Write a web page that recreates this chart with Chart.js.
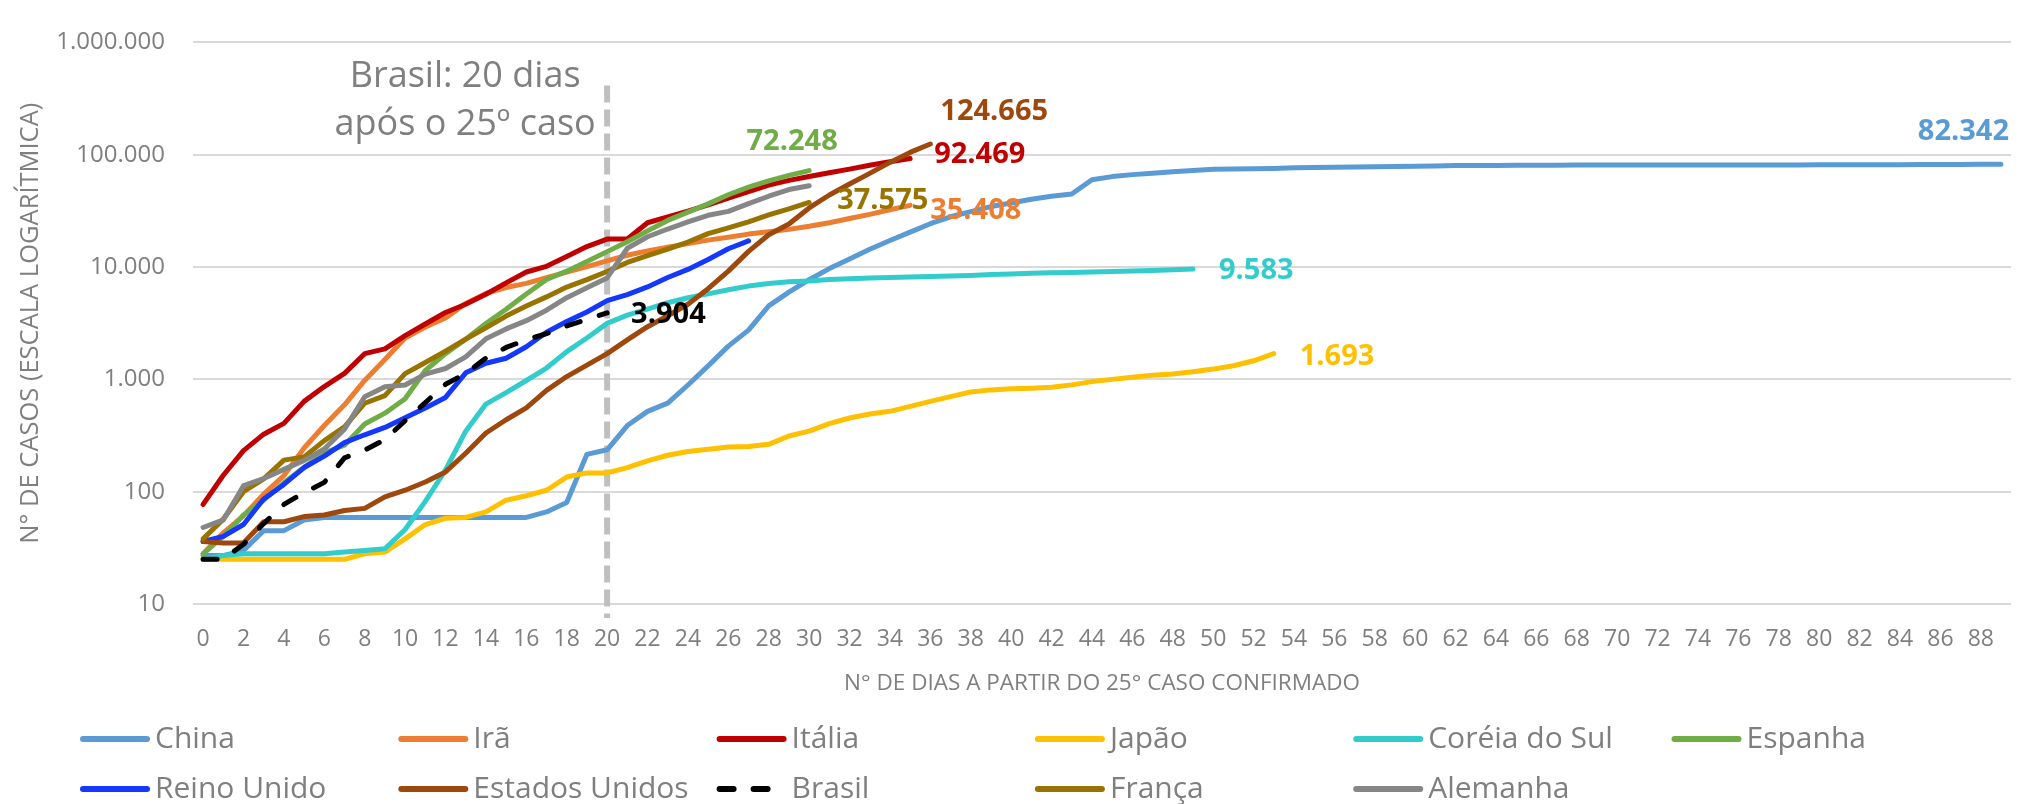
<!DOCTYPE html>
<html><head><meta charset="utf-8">
<script src="https://cdn.jsdelivr.net/npm/chart.js@4.4.0/dist/chart.umd.min.js"></script>
<style>html,body{margin:0;padding:0;background:#fff;}#wrap{width:2023px;height:804px;position:relative}</style>
</head><body><div id="wrap"><canvas id="c"></canvas></div>
<script>
// ---- categories (days since 25th case) ----
const categories = ["0","1","2","3","4","5","6","7","8","9","10","11","12","13","14","15","16","17","18","19","20","21","22","23","24","25","26","27","28","29","30","31","32","33","34","35","36","37","38","39","40","41","42","43","44","45","46","47","48","49","50","51","52","53","54","55","56","57","58","59","60","61","62","63","64","65","66","67","68","69","70","71","72","73","74","75","76","77","78","79","80","81","82","83","84","85","86","87","88","89"];

// ---- series values (cases) ----
const china = [27,27,30,45,45,56,59,59,59,59,59,59,59,59,59,59,59,66,80,215,236,388,519,615,891,1320,1975,2744,4515,5974,7711,9692,11791,14380,17205,20438,24324,28018,31161,34546,37198,40171,42638,44653,59804,63851,66492,68500,70548,72436,74185,74576,75077,75567,76396,77041,77262,77779,78190,78630,78959,79389,79968,80174,80302,80422,80565,80710,80813,80859,80904,80924,80955,80980,80991,81021,81048,81077,81116,81151,81235,81300,81416,81498,81601,81747,81846,81960,82078,82342];
const ira = [28,43,61,95,139,245,388,593,978,1501,2336,2922,3513,4747,5823,6566,7161,8042,9000,10075,11364,12729,13938,14991,16169,17361,18407,19644,20610,21638,23049,24811,27017,29406,32332,35408];
const italia = [77,140,232,325,406,637,863,1130,1693,1870,2450,3110,3940,4660,5720,7230,9030,10140,12400,15200,17750,17750,24800,28000,31500,35700,41000,47000,53600,59100,63900,69200,74400,80600,86500,92469];
const japao = [25,25,25,25,25,25,25,25,28,29,38,51,58,59,66,84,92,103,135,147,147,164,188,211,228,239,250,252,264,313,346,404,453,492,519,574,636,701,773,806,825,835,850,893,955,1000,1043,1087,1116,1170,1234,1321,1463,1693];
const coreia = [25,27,28,28,28,28,28,29,30,31,46,82,156,346,602,763,977,1261,1766,2337,3150,3736,4212,4812,5328,5766,6284,6767,7134,7382,7513,7755,7869,7979,8086,8162,8236,8320,8413,8565,8652,8799,8897,8961,9037,9137,9241,9332,9478,9583];
const espanha = [28,40,62,84,120,165,222,259,400,500,673,1200,1695,2277,3146,4209,5753,7753,9191,11178,13716,16800,21000,26000,30800,36500,44000,51500,58500,65500,72248];
const reinoUnido = [36,40,51,86,116,164,207,273,321,373,456,557,690,1143,1391,1543,1950,2626,3269,3983,5018,5683,6650,8077,9529,11658,14543,17089];
const estadosUnidos = [36,35,35,54,54,60,62,68,71,90,103,122,150,220,333,437,557,797,1059,1340,1697,2247,2943,3680,4663,6411,9197,13779,19367,24192,33592,43781,54856,68211,85435,104837,124665];
const brasil = [25,25,34,52,77,98,121,200,234,291,428,621,904,1128,1546,1924,2247,2554,2985,3417,3904];
const franca = [38,57,100,130,191,204,285,377,613,716,1126,1412,1784,2281,2876,3661,4499,5423,6633,7730,9134,10995,12612,14459,16689,19856,22302,25233,29155,32964,37575];
const alemanha = [48,56,113,131,158,190,240,360,700,861,891,1114,1250,1584,2298,2813,3330,4130,5335,6535,8000,14700,18600,21800,25200,28900,31300,36700,42700,49000,53000];

// ---- names & tick labels ----
const seriesNames = ["China","Irã","Itália","Japão","Coréia do Sul","Espanha","Reino Unido","Estados Unidos","Brasil","França","Alemanha"];
const yTickValues = [10,100,1000,10000,100000,1000000];
const xTitle = "N° DE DIAS A PARTIR DO 25° CASO CONFIRMADO";
const yTitle = "N° DE CASOS (ESCALA LOGARÍTMICA)";
const noteLines = ["Brasil: 20 dias","após o 25º caso"];
const markerDay = "20";

// ---- styles ----
const FONT = "'Open Sans', 'Noto Sans', sans-serif";
const GRAY = "#7F7F7F";
const colors = ["#5B9BD5","#ED7D31","#C00000","#FFC000","#33CCCC","#70AD47","#1438FF","#9E480E","#000000","#997300","#868686"];
const seriesData = [china, ira, italia, japao, coreia, espanha, reinoUnido, estadosUnidos, brasil, franca, alemanha];
// end-label placement: [dx, dy, align] relative to last point (null = no label)
const endLabel = [[8,-32,'right'],[20,5,'left'],[24,-4,'left'],[26,3,'left'],[26,2,'left'],[-17,-29,'center'],null,[10,-32,'left'],[24,2,'left'],[28,-2,'left'],null];

const fmt = v => String(v).replace(/\B(?=(\d{3})+(?!\d))/g, '.');

const datasets = seriesNames.map((name, i) => ({
  label: name,
  data: seriesData[i],
  borderColor: colors[i],
  backgroundColor: colors[i],
  borderWidth: 5,
  pointRadius: 0,
  pointHoverRadius: 0,
  tension: 0,
  fill: false,
  borderCapStyle: 'round',
  borderJoinStyle: 'round',
  borderDash: name === 'Brasil' ? [14, 20] : [],
  order: 100 - i
}));

const overlay = {
  id: 'overlay',
  beforeDatasetsDraw(chart) {
    const {ctx, chartArea, scales} = chart;
    const x = scales.x.getPixelForValue(categories.indexOf(markerDay));
    ctx.save();
    ctx.strokeStyle = '#BFBFBF';
    ctx.lineWidth = 6;
    ctx.setLineDash([17, 7]);
    ctx.beginPath();
    ctx.moveTo(x, chartArea.top + 43);
    ctx.lineTo(x, chartArea.bottom + 14);
    ctx.stroke();
    ctx.setLineDash([]);
    ctx.fillStyle = GRAY;
    ctx.font = "36px " + FONT;
    ctx.textAlign = 'center';
    ctx.textBaseline = 'middle';
    ctx.fillText(noteLines[0], x - 142, chartArea.top + 34);
    ctx.fillText(noteLines[1], x - 142, chartArea.top + 82);
    ctx.restore();
  },
  afterDatasetsDraw(chart) {
    const {ctx} = chart;
    ctx.save();
    ctx.font = "bold 29px " + FONT;
    ctx.textBaseline = 'middle';
    chart.data.datasets.forEach((ds, i) => {
      const cfg = endLabel[i];
      if (!cfg) return;
      const meta = chart.getDatasetMeta(i);
      const pt = meta.data[meta.data.length - 1];
      ctx.fillStyle = colors[i];
      ctx.textAlign = cfg[2];
      ctx.fillText(fmt(ds.data[ds.data.length - 1]), pt.x + cfg[0], pt.y + cfg[1]);
    });
    ctx.restore();
  },
  afterDraw(chart) {
    const {ctx} = chart;
    ctx.save();
    ctx.font = "30px " + FONT;
    ctx.textBaseline = 'middle';
    ctx.textAlign = 'left';
    const colX0 = 80, colW = 318.3, rowY = [739, 789], lineLen = 70;
    seriesNames.forEach((name, i) => {
      const row = i < 6 ? 0 : 1;
      const col = i < 6 ? i : i - 6;
      const x = colX0 + col * colW, y = rowY[row];
      ctx.strokeStyle = colors[i];
      ctx.lineWidth = 6;
      ctx.lineCap = 'round';
      ctx.setLineDash(name === 'Brasil' ? [14, 20] : []);
      ctx.beginPath();
      ctx.moveTo(x + 3, y);
      ctx.lineTo(x + lineLen - 3, y);
      ctx.stroke();
      ctx.setLineDash([]);
      ctx.fillStyle = GRAY;
      ctx.fillText(name, x + lineLen + 5, y);
    });
    ctx.restore();
  }
};

new Chart(document.getElementById('c'), {
  type: 'line',
  data: { labels: categories, datasets },
  options: {
    responsive: true,
    maintainAspectRatio: false,
    animation: false,
    events: [],
    layout: { padding: { top: 30, right: 3, bottom: 95, left: 0 } },
    plugins: { legend: { display: false }, tooltip: { enabled: false } },
    scales: {
      x: {
        type: 'category',
        offset: true,
        grid: { display: false, drawTicks: false },
        border: { display: false },
        ticks: {
          autoSkip: false, maxRotation: 0, minRotation: 0, padding: 22,
          color: GRAY, font: { family: FONT, size: 23 },
          callback: (v, i) => (i % 2 === 0 ? categories[i] : '')
        },
        title: { display: true, text: xTitle, color: GRAY, font: { family: FONT, size: 22.5 }, padding: { top: 4, bottom: 12 } },
        afterFit: s => { s.height = 105; }
      },
      y: {
        type: 'logarithmic',
        min: 10, max: 1000000,
        grid: { color: '#D9D9D9', lineWidth: 2, drawTicks: false },
        border: { display: false },
        afterBuildTicks: s => { s.ticks = yTickValues.map(v => ({ value: v })); },
        ticks: {
          padding: 28, color: GRAY, font: { family: FONT, size: 24 },
          callback: v => fmt(v)
        },
        title: { display: true, text: yTitle, color: GRAY, font: { family: FONT, size: 25.5 }, padding: { top: 15, bottom: 0 } },
        afterFit: s => { s.width = 193; }
      }
    }
  },
  plugins: [overlay]
});
</script></body></html>
